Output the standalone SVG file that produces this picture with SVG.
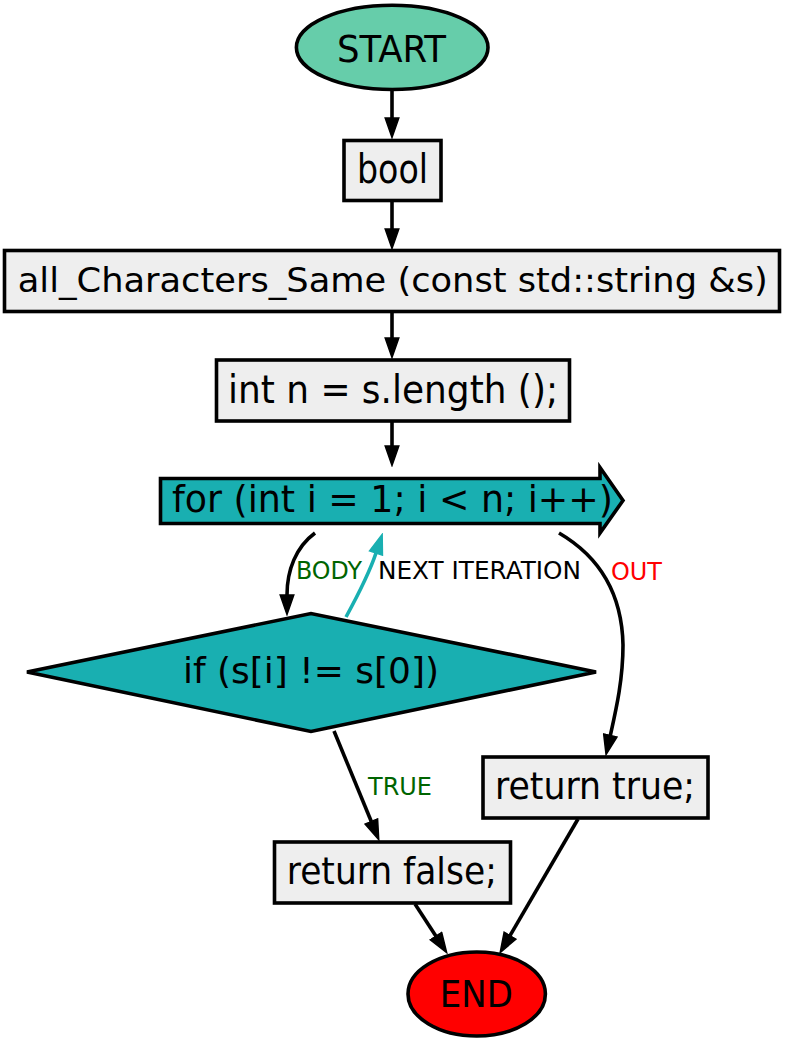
<svg xmlns="http://www.w3.org/2000/svg" width="785" height="1043" viewBox="0 0 785 1043">
<style>
  .node { stroke: #000; stroke-width: 3.6; }
  .box { fill: #eeeeee; }
  .teal { fill: #19afb1; }
  .t { font-family: "DejaVu Sans Condensed", "DejaVu Sans", sans-serif; fill: #000; text-anchor: middle; }
  .lbl { font-family: "DejaVu Sans", sans-serif; font-size: 25px; text-anchor: start; }
  .edge { fill: none; stroke: #000; stroke-width: 3.6; }
  .edge.tl { stroke: #19afb1; }
</style>
<defs>
  <marker id="ah" markerUnits="userSpaceOnUse" viewBox="0 0 22 16" markerWidth="22" markerHeight="16" refX="1" refY="8" orient="auto">
    <path d="M1,1.2 L20.5,8 L1,14.8 z" fill="#000" stroke="#000" stroke-width="1.5"/>
  </marker>
  <marker id="aht" markerUnits="userSpaceOnUse" viewBox="0 0 22 16" markerWidth="22" markerHeight="16" refX="1" refY="8" orient="auto">
    <path d="M1,1.2 L20.5,8 L1,14.8 z" fill="#19afb1" stroke="#19afb1" stroke-width="1.5"/>
  </marker>
</defs>
<rect width="785" height="1043" fill="#ffffff"/>
<g id="edges">
  <path class="edge" d="M392,90 L392,118" marker-end="url(#ah)"/>
  <path class="edge" d="M392,201 L392,229" marker-end="url(#ah)"/>
  <path class="edge" d="M392,312 L392,338" marker-end="url(#ah)"/>
  <path class="edge" d="M392,421 L392,446" marker-end="url(#ah)"/>
  <path class="edge" d="M315,533 C296,547 287,570 287,595" marker-end="url(#ah)"/>
  <path class="edge tl" d="M346,617 C358,595 369,574 376,553" marker-end="url(#aht)"/>
  <path class="edge" d="M559,533 C600,557 622,595 623,645 C623,680 616,710 610.3,735.5" marker-end="url(#ah)"/>
  <path class="edge" d="M334,731 L371.3,821.5" marker-end="url(#ah)"/>
  <path class="edge" d="M415,904 L436,936.2" marker-end="url(#ah)"/>
  <path class="edge" d="M578,819 L510,935.7" marker-end="url(#ah)"/>
  <text class="lbl" x="296" y="579" fill="#006400" textLength="66" lengthAdjust="spacingAndGlyphs">BODY</text>
  <text class="lbl" x="378" y="579" fill="#000000" textLength="203" lengthAdjust="spacingAndGlyphs">NEXT ITERATION</text>
  <text class="lbl" x="611" y="580" fill="#ff0000" textLength="51" lengthAdjust="spacingAndGlyphs">OUT</text>
  <text class="lbl" x="368" y="795" fill="#006400" textLength="64" lengthAdjust="spacingAndGlyphs">TRUE</text>
</g>
<g id="start">
  <ellipse class="node" cx="392.2" cy="47.4" rx="95.8" ry="42.1" fill="#66cdaa"/>
  <text class="t" x="391.5" y="61.7" font-size="38" textLength="109" lengthAdjust="spacingAndGlyphs">START</text>
</g>
<g id="bool">
  <rect class="node box" x="344" y="140.5" width="97" height="60"/>
  <text class="t" x="392.5" y="182.7" font-size="40" textLength="71" lengthAdjust="spacingAndGlyphs">bool</text>
</g>
<g id="func">
  <rect class="node box" x="4.5" y="250.5" width="775" height="61"/>
  <text class="t" x="392.8" y="292.3" font-size="33" textLength="750" lengthAdjust="spacingAndGlyphs">all_Characters_Same (const std::string &amp;s)</text>
</g>
<g id="intn">
  <rect class="node box" x="216.5" y="360" width="353" height="61"/>
  <text class="t" x="393" y="403" font-size="39" textLength="330" lengthAdjust="spacingAndGlyphs">int n = s.length ();</text>
</g>
<g id="for">
  <polygon class="node teal" points="160.5,478.5 600,478.5 600,467.5 623,500.5 600,533 600,523.5 160.5,523.5"/>
  <text class="t" x="392.5" y="511.7" font-size="38" textLength="441" lengthAdjust="spacingAndGlyphs">for (int i = 1; i &lt; n; i++)</text>
</g>
<g id="if">
  <polygon class="node teal" points="27,672 311,613.5 596,672 311,731.5"/>
  <text class="t" x="311" y="683.3" font-size="36" textLength="256" lengthAdjust="spacingAndGlyphs">if (s[i] != s[0])</text>
</g>
<g id="rettrue">
  <rect class="node box" x="483" y="757" width="225" height="61"/>
  <text class="t" x="595" y="799.3" font-size="38" textLength="200" lengthAdjust="spacingAndGlyphs">return true;</text>
</g>
<g id="retfalse">
  <rect class="node box" x="274.5" y="842" width="236" height="61"/>
  <text class="t" x="391.8" y="884" font-size="38" textLength="210" lengthAdjust="spacingAndGlyphs">return false;</text>
</g>
<g id="end">
  <ellipse class="node" cx="476.7" cy="994" rx="68.7" ry="42" fill="#ff0000"/>
  <text class="t" x="476.3" y="1006.7" font-size="37" textLength="73" lengthAdjust="spacingAndGlyphs">END</text>
</g>
</svg>
